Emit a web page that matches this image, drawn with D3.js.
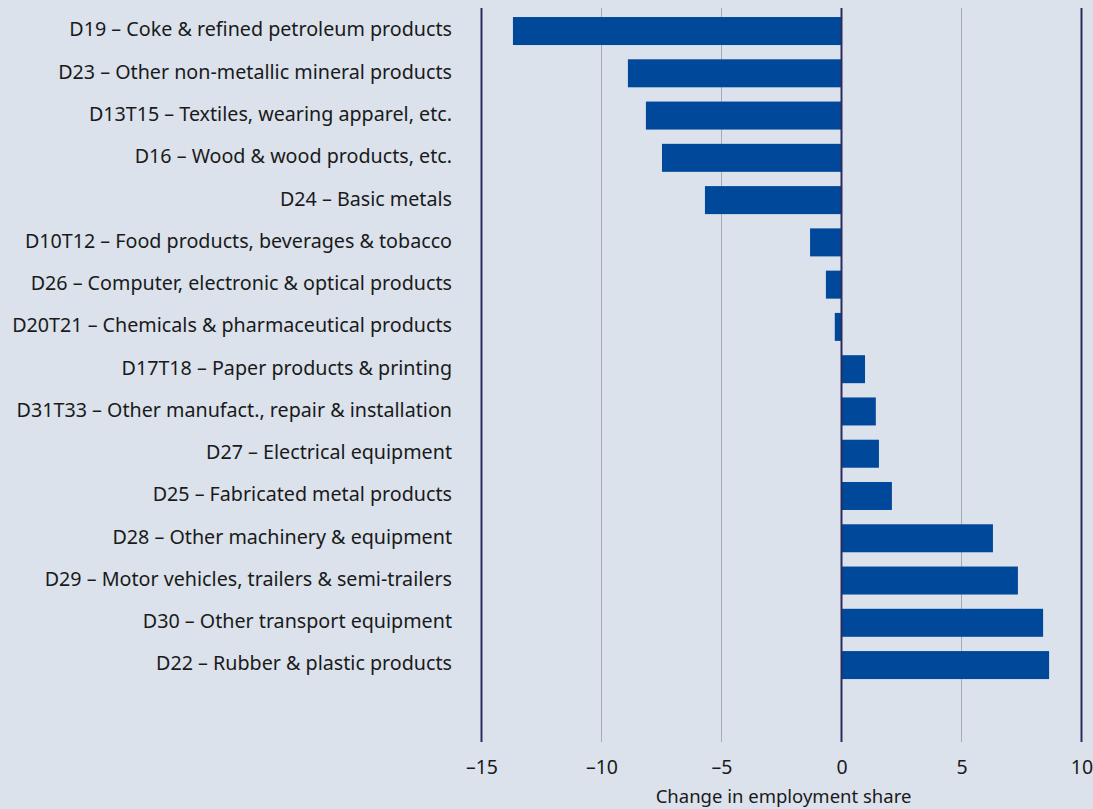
<!DOCTYPE html>
<html>
<head>
<meta charset="utf-8">
<script src="https://cdn.jsdelivr.net/npm/d3@7"></script>
<style>
  html, body { margin: 0; padding: 0; background: #dbe2ec; }
  svg { display: block; font-family: "Noto Sans", sans-serif; }
</style>
</head>
<body>
<svg id="chart" width="1093" height="809"></svg>
<script>
const categories = [
  "D19 – Coke & refined petroleum products",
  "D23 – Other non-metallic mineral products",
  "D13T15 – Textiles, wearing apparel, etc.",
  "D16 – Wood & wood products, etc.",
  "D24 – Basic metals",
  "D10T12 – Food products, beverages & tobacco",
  "D26 – Computer, electronic & optical products",
  "D20T21 – Chemicals & pharmaceutical products",
  "D17T18 – Paper products & printing",
  "D31T33 – Other manufact., repair & installation",
  "D27 – Electrical equipment",
  "D25 – Fabricated metal products",
  "D28 – Other machinery & equipment",
  "D29 – Motor vehicles, trailers & semi-trailers",
  "D30 – Other transport equipment",
  "D22 – Rubber & plastic products"
];
const values = [-13.69, -8.90, -8.15, -7.48, -5.69, -1.31, -0.65, -0.28, 0.98, 1.43, 1.56, 2.10, 6.31, 7.35, 8.40, 8.65];
const tickValues = [-15, -10, -5, 0, 5, 10];
const axisTitle = "Change in employment share";

const svg = d3.select("#chart");
const x = d3.scaleLinear().domain([-15, 10]).range([481.5, 1081.5]);
const y = d3.scaleBand().domain(categories).range([9.9, 686.2]).paddingInner(0.3376).paddingOuter(0.1688);

const lineTop = 8, lineBottom = 742;
const major = new Set([-15, 0, 10]);

svg.append("g").selectAll("line")
  .data(tickValues.filter(t => !major.has(t)))
  .join("line")
  .attr("x1", d => x(d)).attr("x2", d => x(d))
  .attr("y1", lineTop).attr("y2", lineBottom)
  .attr("stroke", "#a9a9bd").attr("stroke-width", 1);

svg.append("g").selectAll("line")
  .data([-15, 10])
  .join("line")
  .attr("x1", d => x(d)).attr("x2", d => x(d))
  .attr("y1", lineTop).attr("y2", lineBottom)
  .attr("stroke", "#2d2b5e").attr("stroke-width", 2);

svg.append("g").selectAll("rect")
  .data(categories)
  .join("rect")
  .attr("x", (d, i) => Math.min(x(0), x(values[i])))
  .attr("width", (d, i) => Math.abs(x(values[i]) - x(0)))
  .attr("y", d => y(d))
  .attr("height", y.bandwidth())
  .attr("fill", "#00489a");

svg.append("line")
  .attr("x1", x(0)).attr("x2", x(0))
  .attr("y1", lineTop).attr("y2", lineBottom)
  .attr("stroke", "#2d2b5e").attr("stroke-width", 2);

svg.append("g").selectAll("text")
  .data(categories)
  .join("text")
  .attr("x", 452)
  .attr("y", d => y(d) + y.bandwidth() / 2 - 1.5)
  .attr("dy", "0.35em")
  .attr("text-anchor", "end")
  .attr("font-size", 19.7)
  .attr("fill", "#1a1a1a")
  .text(d => d);

const axis = d3.axisBottom(x).tickValues(tickValues).tickSize(0).tickPadding(0)
  .tickFormat(d => d < 0 ? "\u2013" + Math.abs(d) : String(d));
const gx = svg.append("g").attr("transform", "translate(0,767)").call(axis);
gx.select(".domain").remove();
gx.selectAll("text")
  .attr("font-family", "Noto Sans, sans-serif")
  .attr("font-size", 19.5)
  .attr("fill", "#1a1a1a")
  .attr("y", 0).attr("dy", "0.35em");

svg.append("text")
  .attr("x", (x(-15) + x(10)) / 2 + 2)
  .attr("y", 803)
  .attr("text-anchor", "middle")
  .attr("font-size", 18.5)
  .attr("fill", "#1a1a1a")
  .text(axisTitle);
</script>
</body>
</html>
